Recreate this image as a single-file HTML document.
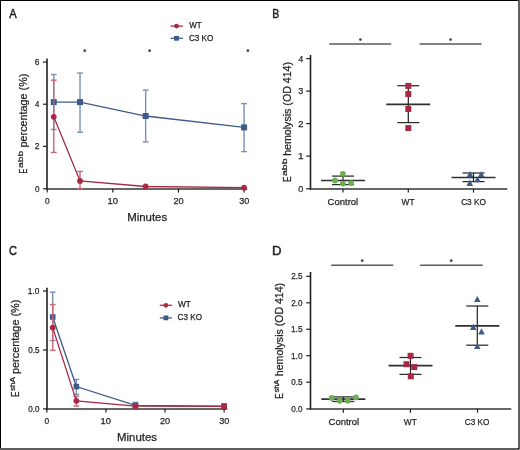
<!DOCTYPE html>
<html><head><meta charset="utf-8"><style>
html,body{margin:0;padding:0;background:#fff;}
body{width:520px;height:450px;overflow:hidden;position:relative;}
svg{position:absolute;left:0;top:0;will-change:transform;}
text{font-family:"Liberation Sans",sans-serif;font-kerning:none;stroke:#231f20;stroke-width:0.25px;}
</style></head><body>
<svg width="520" height="450" viewBox="0 0 520 450">
<rect x="0" y="0" width="520" height="450" fill="#fff"/>
<rect x="0" y="0" width="520" height="1" fill="#000"/>
<rect x="0" y="0" width="1" height="450" fill="#000"/>
<rect x="518" y="0" width="2" height="450" fill="#5f5f5f"/>
<rect x="0" y="448" width="520" height="2" fill="#5f5f5f"/>
<rect x="518" y="448" width="1" height="1" fill="#111"/>
<rect x="519" y="449" width="1" height="1" fill="#bbb"/>
<text x="9.18" y="17.80" font-size="12.8" fill="#231f20" textLength="7.44" lengthAdjust="spacingAndGlyphs" style="stroke-width:0.5px">A</text>
<line x1="47.00" y1="58.50" x2="47.00" y2="189.60" stroke="#231f20" stroke-width="1.6"/>
<line x1="46.20" y1="189.00" x2="247.20" y2="189.00" stroke="#353535" stroke-width="1.7"/>
<line x1="43.00" y1="188.80" x2="47.00" y2="188.80" stroke="#231f20" stroke-width="1.2"/>
<text x="34.98" y="191.70" font-size="9.5" fill="#231f20" textLength="4.54" lengthAdjust="spacingAndGlyphs">0</text>
<line x1="43.00" y1="146.36" x2="47.00" y2="146.36" stroke="#231f20" stroke-width="1.2"/>
<text x="34.87" y="149.26" font-size="9.5" fill="#231f20" textLength="4.76" lengthAdjust="spacingAndGlyphs">2</text>
<line x1="43.00" y1="104.22" x2="47.00" y2="104.22" stroke="#231f20" stroke-width="1.2"/>
<text x="35.12" y="107.12" font-size="9.5" fill="#231f20" textLength="4.30" lengthAdjust="spacingAndGlyphs">4</text>
<line x1="43.00" y1="62.08" x2="47.00" y2="62.08" stroke="#231f20" stroke-width="1.2"/>
<text x="34.87" y="64.98" font-size="9.5" fill="#231f20" textLength="4.70" lengthAdjust="spacingAndGlyphs">6</text>
<line x1="47.20" y1="188.80" x2="47.20" y2="192.60" stroke="#231f20" stroke-width="1.2"/>
<text x="45.07" y="204.40" font-size="9.5" fill="#231f20" textLength="4.65" lengthAdjust="spacingAndGlyphs">0</text>
<line x1="112.83" y1="188.80" x2="112.83" y2="192.60" stroke="#231f20" stroke-width="1.2"/>
<text x="107.61" y="204.40" font-size="9.5" fill="#231f20" textLength="10.49" lengthAdjust="spacingAndGlyphs">10</text>
<line x1="178.46" y1="188.80" x2="178.46" y2="192.60" stroke="#231f20" stroke-width="1.2"/>
<text x="173.50" y="204.40" font-size="9.5" fill="#231f20" textLength="10.22" lengthAdjust="spacingAndGlyphs">20</text>
<line x1="244.09" y1="188.80" x2="244.09" y2="192.60" stroke="#231f20" stroke-width="1.2"/>
<text x="239.24" y="204.40" font-size="9.5" fill="#231f20" textLength="10.10" lengthAdjust="spacingAndGlyphs">30</text>
<text x="127.16" y="220.60" font-size="11" fill="#231f20" textLength="40.05" lengthAdjust="spacingAndGlyphs">Minutes</text>
<g transform="translate(27.40,0) rotate(-90)">
<text x="-173.39" y="0.00" font-size="11.8" fill="#231f20" textLength="4.80" lengthAdjust="spacingAndGlyphs">E</text>
<text x="-168.04" y="-4.00" font-size="7.8" fill="#231f20" textLength="17.27" lengthAdjust="spacingAndGlyphs">abb</text>
<text x="-147.40" y="0.00" font-size="11" fill="#231f20" textLength="73.76" lengthAdjust="spacingAndGlyphs">percentage (%)</text>
</g>
<circle cx="84.70" cy="50.70" r="1.4" fill="#4a4a4a"/>
<circle cx="149.60" cy="50.70" r="1.4" fill="#4a4a4a"/>
<circle cx="247.90" cy="50.70" r="1.4" fill="#4a4a4a"/>
<line x1="170.60" y1="26.10" x2="182.80" y2="26.10" stroke="#a62a42" stroke-width="1.3"/>
<circle cx="176.50" cy="26.10" r="2.4" fill="#a62a42"/>
<line x1="170.60" y1="38.30" x2="182.80" y2="38.30" stroke="#3d5b88" stroke-width="1.3"/>
<rect x="174.10" y="35.90" width="4.8" height="4.8" fill="#3d5b88"/>
<text x="189.26" y="28.40" font-size="8.9" fill="#231f20" textLength="12.42" lengthAdjust="spacingAndGlyphs">WT</text>
<text x="188.89" y="40.80" font-size="8.9" fill="#231f20" textLength="24.51" lengthAdjust="spacingAndGlyphs">C3 KO</text>
<line x1="53.76" y1="129.50" x2="53.76" y2="74.51" stroke="#7890b4" stroke-width="1.4"/>
<line x1="50.86" y1="129.50" x2="56.66" y2="129.50" stroke="#7890b4" stroke-width="1.4"/>
<line x1="50.86" y1="74.51" x2="56.66" y2="74.51" stroke="#7890b4" stroke-width="1.4"/>
<line x1="80.02" y1="132.24" x2="80.02" y2="73.04" stroke="#7890b4" stroke-width="1.4"/>
<line x1="77.11" y1="132.24" x2="82.92" y2="132.24" stroke="#7890b4" stroke-width="1.4"/>
<line x1="77.11" y1="73.04" x2="82.92" y2="73.04" stroke="#7890b4" stroke-width="1.4"/>
<line x1="145.64" y1="141.94" x2="145.64" y2="90.10" stroke="#7890b4" stroke-width="1.4"/>
<line x1="142.74" y1="141.94" x2="148.54" y2="141.94" stroke="#7890b4" stroke-width="1.4"/>
<line x1="142.74" y1="90.10" x2="148.54" y2="90.10" stroke="#7890b4" stroke-width="1.4"/>
<line x1="244.09" y1="151.63" x2="244.09" y2="103.59" stroke="#7890b4" stroke-width="1.4"/>
<line x1="241.19" y1="151.63" x2="246.99" y2="151.63" stroke="#7890b4" stroke-width="1.4"/>
<line x1="241.19" y1="103.59" x2="246.99" y2="103.59" stroke="#7890b4" stroke-width="1.4"/>
<polyline points="53.76,102.11 80.02,102.11 145.64,116.02 244.09,127.40" fill="none" stroke="#3d5b88" stroke-width="1.3"/>
<rect x="50.76" y="99.11" width="6" height="6" fill="#3d5b88"/>
<rect x="77.02" y="99.11" width="6" height="6" fill="#3d5b88"/>
<rect x="142.64" y="113.02" width="6" height="6" fill="#3d5b88"/>
<rect x="241.09" y="124.40" width="6" height="6" fill="#3d5b88"/>
<line x1="53.76" y1="152.47" x2="53.76" y2="80.20" stroke="#c96678" stroke-width="1.4"/>
<line x1="50.86" y1="152.47" x2="56.66" y2="152.47" stroke="#c96678" stroke-width="1.4"/>
<line x1="50.86" y1="80.20" x2="56.66" y2="80.20" stroke="#c96678" stroke-width="1.4"/>
<line x1="80.02" y1="188.50" x2="80.02" y2="171.43" stroke="#c96678" stroke-width="1.4"/>
<line x1="77.11" y1="188.50" x2="82.92" y2="188.50" stroke="#c96678" stroke-width="1.4"/>
<line x1="77.11" y1="171.43" x2="82.92" y2="171.43" stroke="#c96678" stroke-width="1.4"/>
<polyline points="53.76,116.86 80.02,180.91 145.64,186.50 244.09,187.66" fill="none" stroke="#a62a42" stroke-width="1.3"/>
<circle cx="53.76" cy="116.86" r="2.9" fill="#a62a42"/>
<circle cx="80.02" cy="180.91" r="2.9" fill="#a62a42"/>
<circle cx="145.64" cy="186.50" r="2.9" fill="#a62a42"/>
<circle cx="244.09" cy="187.66" r="2.9" fill="#a62a42"/>
<text x="272.34" y="17.80" font-size="12.8" fill="#231f20" textLength="7.02" lengthAdjust="spacingAndGlyphs" style="stroke-width:0.5px">B</text>
<line x1="310.50" y1="55.00" x2="310.50" y2="189.60" stroke="#231f20" stroke-width="1.6"/>
<line x1="309.70" y1="189.00" x2="507.30" y2="189.00" stroke="#353535" stroke-width="1.7"/>
<line x1="306.20" y1="188.80" x2="310.50" y2="188.80" stroke="#231f20" stroke-width="1.2"/>
<text x="298.35" y="191.70" font-size="9.5" fill="#231f20" textLength="5.00" lengthAdjust="spacingAndGlyphs">0</text>
<line x1="306.20" y1="156.10" x2="310.50" y2="156.10" stroke="#231f20" stroke-width="1.2"/>
<text x="297.94" y="159.00" font-size="9.5" fill="#231f20" textLength="5.55" lengthAdjust="spacingAndGlyphs">1</text>
<line x1="306.20" y1="123.60" x2="310.50" y2="123.60" stroke="#231f20" stroke-width="1.2"/>
<text x="298.23" y="126.50" font-size="9.5" fill="#231f20" textLength="5.25" lengthAdjust="spacingAndGlyphs">2</text>
<line x1="306.20" y1="91.10" x2="310.50" y2="91.10" stroke="#231f20" stroke-width="1.2"/>
<text x="298.35" y="94.00" font-size="9.5" fill="#231f20" textLength="5.04" lengthAdjust="spacingAndGlyphs">3</text>
<line x1="306.20" y1="58.60" x2="310.50" y2="58.60" stroke="#231f20" stroke-width="1.2"/>
<text x="298.50" y="61.50" font-size="9.5" fill="#231f20" textLength="4.75" lengthAdjust="spacingAndGlyphs">4</text>
<line x1="343.00" y1="188.80" x2="343.00" y2="192.60" stroke="#231f20" stroke-width="1.2"/>
<line x1="408.30" y1="188.80" x2="408.30" y2="192.60" stroke="#231f20" stroke-width="1.2"/>
<line x1="473.50" y1="188.80" x2="473.50" y2="192.60" stroke="#231f20" stroke-width="1.2"/>
<text x="327.52" y="204.80" font-size="9.8" fill="#231f20" textLength="30.72" lengthAdjust="spacingAndGlyphs">Control</text>
<text x="401.56" y="204.80" font-size="9.8" fill="#231f20" textLength="12.93" lengthAdjust="spacingAndGlyphs">WT</text>
<text x="461.18" y="204.80" font-size="9.8" fill="#231f20" textLength="24.71" lengthAdjust="spacingAndGlyphs">C3 KO</text>
<g transform="translate(290.50,0) rotate(-90)">
<text x="-181.88" y="0.00" font-size="11.8" fill="#231f20" textLength="5.54" lengthAdjust="spacingAndGlyphs">E</text>
<text x="-176.05" y="-4.00" font-size="7.8" fill="#231f20" textLength="17.59" lengthAdjust="spacingAndGlyphs">abb</text>
<text x="-155.84" y="0.00" font-size="11" fill="#231f20" textLength="93.90" lengthAdjust="spacingAndGlyphs">hemolysis (OD 414)</text>
</g>
<line x1="329.20" y1="44.10" x2="391.20" y2="44.10" stroke="#58595b" stroke-width="1.5"/>
<line x1="419.60" y1="44.10" x2="481.50" y2="44.10" stroke="#58595b" stroke-width="1.5"/>
<circle cx="360.40" cy="39.60" r="1.4" fill="#4a4a4a"/>
<circle cx="450.60" cy="39.60" r="1.4" fill="#4a4a4a"/>
<line x1="332.00" y1="184.60" x2="354.00" y2="184.60" stroke="#2a2a2a" stroke-width="1.25"/>
<line x1="332.00" y1="176.10" x2="354.00" y2="176.10" stroke="#2a2a2a" stroke-width="1.25"/>
<line x1="343.00" y1="184.60" x2="343.00" y2="176.10" stroke="#231f20" stroke-width="1.2"/>
<line x1="321.00" y1="180.50" x2="365.00" y2="180.50" stroke="#303030" stroke-width="1.7"/>
<circle cx="342.90" cy="173.80" r="2.9" fill="#6daf4d"/>
<circle cx="335.00" cy="180.50" r="2.9" fill="#6daf4d"/>
<circle cx="342.90" cy="183.60" r="2.9" fill="#6daf4d"/>
<circle cx="351.00" cy="183.10" r="2.9" fill="#6daf4d"/>
<line x1="397.30" y1="122.60" x2="419.30" y2="122.60" stroke="#2a2a2a" stroke-width="1.25"/>
<line x1="397.30" y1="85.70" x2="419.30" y2="85.70" stroke="#2a2a2a" stroke-width="1.25"/>
<line x1="408.30" y1="122.60" x2="408.30" y2="85.70" stroke="#231f20" stroke-width="1.2"/>
<line x1="386.30" y1="104.30" x2="430.30" y2="104.30" stroke="#303030" stroke-width="1.7"/>
<rect x="405.30" y="82.90" width="6" height="6" fill="#a62a42"/>
<rect x="405.30" y="91.00" width="6" height="6" fill="#a62a42"/>
<rect x="405.30" y="106.00" width="6" height="6" fill="#a62a42"/>
<rect x="405.30" y="125.10" width="6" height="6" fill="#a62a42"/>
<line x1="462.50" y1="181.60" x2="484.50" y2="181.60" stroke="#2a2a2a" stroke-width="1.25"/>
<line x1="462.50" y1="173.00" x2="484.50" y2="173.00" stroke="#2a2a2a" stroke-width="1.25"/>
<line x1="473.50" y1="181.60" x2="473.50" y2="173.00" stroke="#231f20" stroke-width="1.2"/>
<line x1="451.50" y1="177.50" x2="495.50" y2="177.50" stroke="#303030" stroke-width="1.7"/>
<polygon points="466.70,177.00 473.30,177.00 470.00,170.90" fill="#3d5b88"/>
<polygon points="477.90,177.00 484.50,177.00 481.20,171.20" fill="#3d5b88"/>
<polygon points="474.20,182.20 480.80,182.20 477.50,176.40" fill="#3d5b88"/>
<polygon points="466.50,185.90 473.10,185.90 469.80,179.50" fill="#3d5b88"/>
<text x="9.04" y="254.80" font-size="13.4" fill="#231f20" textLength="7.98" lengthAdjust="spacingAndGlyphs" style="stroke-width:0.5px">C</text>
<line x1="47.00" y1="287.70" x2="47.00" y2="409.70" stroke="#231f20" stroke-width="1.6"/>
<line x1="46.20" y1="409.00" x2="227.30" y2="409.00" stroke="#353535" stroke-width="1.7"/>
<line x1="43.00" y1="408.90" x2="47.00" y2="408.90" stroke="#231f20" stroke-width="1.2"/>
<text x="28.18" y="411.80" font-size="9.5" fill="#231f20" textLength="11.23" lengthAdjust="spacingAndGlyphs">0.0</text>
<line x1="43.00" y1="350.00" x2="47.00" y2="350.00" stroke="#231f20" stroke-width="1.2"/>
<text x="28.18" y="352.90" font-size="9.5" fill="#231f20" textLength="11.26" lengthAdjust="spacingAndGlyphs">0.5</text>
<line x1="43.00" y1="291.00" x2="47.00" y2="291.00" stroke="#231f20" stroke-width="1.2"/>
<text x="27.87" y="293.90" font-size="9.5" fill="#231f20" textLength="11.56" lengthAdjust="spacingAndGlyphs">1.0</text>
<line x1="46.80" y1="408.90" x2="46.80" y2="412.60" stroke="#231f20" stroke-width="1.2"/>
<text x="44.57" y="424.40" font-size="9.5" fill="#231f20" textLength="4.65" lengthAdjust="spacingAndGlyphs">0</text>
<line x1="105.90" y1="408.90" x2="105.90" y2="412.60" stroke="#231f20" stroke-width="1.2"/>
<text x="100.58" y="424.40" font-size="9.5" fill="#231f20" textLength="10.49" lengthAdjust="spacingAndGlyphs">10</text>
<line x1="165.00" y1="408.90" x2="165.00" y2="412.60" stroke="#231f20" stroke-width="1.2"/>
<text x="159.94" y="424.40" font-size="9.5" fill="#231f20" textLength="10.22" lengthAdjust="spacingAndGlyphs">20</text>
<line x1="224.10" y1="408.90" x2="224.10" y2="412.60" stroke="#231f20" stroke-width="1.2"/>
<text x="219.15" y="424.40" font-size="9.5" fill="#231f20" textLength="10.10" lengthAdjust="spacingAndGlyphs">30</text>
<text x="117.06" y="440.80" font-size="11" fill="#231f20" textLength="39.95" lengthAdjust="spacingAndGlyphs">Minutes</text>
<g transform="translate(19.20,0) rotate(-90)">
<text x="-396.97" y="0.00" font-size="11.8" fill="#231f20" textLength="5.41" lengthAdjust="spacingAndGlyphs">E</text>
<text x="-391.13" y="-4.00" font-size="7.8" fill="#231f20" textLength="14.14" lengthAdjust="spacingAndGlyphs">shA</text>
<text x="-374.00" y="0.00" font-size="11" fill="#231f20" textLength="74.38" lengthAdjust="spacingAndGlyphs">percentage (%)</text>
</g>
<line x1="159.80" y1="305.30" x2="171.90" y2="305.30" stroke="#a62a42" stroke-width="1.3"/>
<circle cx="165.90" cy="305.30" r="2.4" fill="#a62a42"/>
<line x1="159.80" y1="317.90" x2="171.90" y2="317.90" stroke="#3d5b88" stroke-width="1.3"/>
<rect x="163.50" y="315.50" width="4.8" height="4.8" fill="#3d5b88"/>
<text x="177.96" y="307.00" font-size="8.9" fill="#231f20" textLength="12.93" lengthAdjust="spacingAndGlyphs">WT</text>
<text x="177.59" y="320.10" font-size="8.9" fill="#231f20" textLength="24.40" lengthAdjust="spacingAndGlyphs">C3 KO</text>
<line x1="52.71" y1="340.56" x2="52.71" y2="292.18" stroke="#7890b4" stroke-width="1.4"/>
<line x1="49.81" y1="340.56" x2="55.61" y2="340.56" stroke="#7890b4" stroke-width="1.4"/>
<line x1="49.81" y1="292.18" x2="55.61" y2="292.18" stroke="#7890b4" stroke-width="1.4"/>
<line x1="76.35" y1="394.37" x2="76.35" y2="379.50" stroke="#7890b4" stroke-width="1.4"/>
<line x1="73.45" y1="394.37" x2="79.25" y2="394.37" stroke="#7890b4" stroke-width="1.4"/>
<line x1="73.45" y1="379.50" x2="79.25" y2="379.50" stroke="#7890b4" stroke-width="1.4"/>
<line x1="135.45" y1="405.46" x2="135.45" y2="402.39" stroke="#7890b4" stroke-width="1.4"/>
<line x1="132.55" y1="402.39" x2="138.35" y2="402.39" stroke="#7890b4" stroke-width="1.4"/>
<polyline points="52.71,316.96 76.35,386.58 135.45,405.46 224.10,406.05" fill="none" stroke="#3d5b88" stroke-width="1.3"/>
<rect x="49.91" y="314.16" width="5.6" height="5.6" fill="#3d5b88"/>
<rect x="73.55" y="383.78" width="5.6" height="5.6" fill="#3d5b88"/>
<rect x="132.65" y="402.66" width="5.6" height="5.6" fill="#3d5b88"/>
<rect x="221.30" y="403.25" width="5.6" height="5.6" fill="#3d5b88"/>
<line x1="52.71" y1="350.35" x2="52.71" y2="304.57" stroke="#c96678" stroke-width="1.4"/>
<line x1="49.81" y1="350.35" x2="55.61" y2="350.35" stroke="#c96678" stroke-width="1.4"/>
<line x1="49.81" y1="304.57" x2="55.61" y2="304.57" stroke="#c96678" stroke-width="1.4"/>
<line x1="76.35" y1="406.05" x2="76.35" y2="396.26" stroke="#c96678" stroke-width="1.4"/>
<line x1="73.45" y1="406.05" x2="79.25" y2="406.05" stroke="#c96678" stroke-width="1.4"/>
<line x1="73.45" y1="396.26" x2="79.25" y2="396.26" stroke="#c96678" stroke-width="1.4"/>
<polyline points="52.71,327.58 76.35,400.86 135.45,406.05 224.10,406.40" fill="none" stroke="#a62a42" stroke-width="1.3"/>
<circle cx="52.71" cy="327.58" r="2.9" fill="#a62a42"/>
<circle cx="76.35" cy="400.86" r="2.9" fill="#a62a42"/>
<rect x="132.65" y="403.25" width="5.6" height="5.6" fill="#a62a42"/>
<rect x="221.30" y="403.60" width="5.6" height="5.6" fill="#a62a42"/>
<text x="271.92" y="254.50" font-size="13.4" fill="#231f20" textLength="9.51" lengthAdjust="spacingAndGlyphs" style="stroke-width:0.5px">D</text>
<line x1="310.50" y1="272.00" x2="310.50" y2="409.70" stroke="#231f20" stroke-width="1.6"/>
<line x1="309.70" y1="409.00" x2="511.30" y2="409.00" stroke="#353535" stroke-width="1.7"/>
<line x1="306.20" y1="408.90" x2="310.50" y2="408.90" stroke="#231f20" stroke-width="1.2"/>
<text x="291.28" y="411.80" font-size="9.5" fill="#231f20" textLength="11.23" lengthAdjust="spacingAndGlyphs">0.0</text>
<line x1="306.20" y1="382.15" x2="310.50" y2="382.15" stroke="#231f20" stroke-width="1.2"/>
<text x="291.28" y="385.05" font-size="9.5" fill="#231f20" textLength="11.26" lengthAdjust="spacingAndGlyphs">0.5</text>
<line x1="306.20" y1="355.70" x2="310.50" y2="355.70" stroke="#231f20" stroke-width="1.2"/>
<text x="290.97" y="358.60" font-size="9.5" fill="#231f20" textLength="11.56" lengthAdjust="spacingAndGlyphs">1.0</text>
<line x1="306.20" y1="329.25" x2="310.50" y2="329.25" stroke="#231f20" stroke-width="1.2"/>
<text x="290.97" y="332.15" font-size="9.5" fill="#231f20" textLength="11.58" lengthAdjust="spacingAndGlyphs">1.5</text>
<line x1="306.20" y1="302.80" x2="310.50" y2="302.80" stroke="#231f20" stroke-width="1.2"/>
<text x="291.19" y="305.70" font-size="9.5" fill="#231f20" textLength="11.33" lengthAdjust="spacingAndGlyphs">2.0</text>
<line x1="306.20" y1="276.35" x2="310.50" y2="276.35" stroke="#231f20" stroke-width="1.2"/>
<text x="291.19" y="279.25" font-size="9.5" fill="#231f20" textLength="11.35" lengthAdjust="spacingAndGlyphs">2.5</text>
<line x1="343.30" y1="408.90" x2="343.30" y2="412.70" stroke="#231f20" stroke-width="1.2"/>
<line x1="410.40" y1="408.90" x2="410.40" y2="412.70" stroke="#231f20" stroke-width="1.2"/>
<line x1="477.50" y1="408.90" x2="477.50" y2="412.70" stroke="#231f20" stroke-width="1.2"/>
<text x="328.62" y="424.80" font-size="9.8" fill="#231f20" textLength="30.51" lengthAdjust="spacingAndGlyphs">Control</text>
<text x="403.76" y="424.80" font-size="9.8" fill="#231f20" textLength="13.03" lengthAdjust="spacingAndGlyphs">WT</text>
<text x="464.79" y="424.80" font-size="9.8" fill="#231f20" textLength="24.51" lengthAdjust="spacingAndGlyphs">C3 KO</text>
<g transform="translate(283.20,0) rotate(-90)">
<text x="-398.78" y="0.00" font-size="11.8" fill="#231f20" textLength="5.54" lengthAdjust="spacingAndGlyphs">E</text>
<text x="-392.61" y="-4.00" font-size="7.8" fill="#231f20" textLength="12.92" lengthAdjust="spacingAndGlyphs">shA</text>
<text x="-376.13" y="0.00" font-size="11" fill="#231f20" textLength="93.19" lengthAdjust="spacingAndGlyphs">hemolysis (OD 414)</text>
</g>
<line x1="331.20" y1="265.30" x2="393.20" y2="265.30" stroke="#58595b" stroke-width="1.5"/>
<line x1="420.10" y1="265.30" x2="482.70" y2="265.30" stroke="#58595b" stroke-width="1.5"/>
<circle cx="362.20" cy="260.70" r="1.4" fill="#4a4a4a"/>
<circle cx="451.20" cy="260.70" r="1.4" fill="#4a4a4a"/>
<line x1="332.30" y1="401.50" x2="354.30" y2="401.50" stroke="#2a2a2a" stroke-width="1.25"/>
<line x1="332.30" y1="396.90" x2="354.30" y2="396.90" stroke="#2a2a2a" stroke-width="1.25"/>
<line x1="343.30" y1="401.50" x2="343.30" y2="396.90" stroke="#231f20" stroke-width="1.2"/>
<line x1="321.30" y1="399.20" x2="365.30" y2="399.20" stroke="#303030" stroke-width="1.7"/>
<circle cx="331.70" cy="398.00" r="2.9" fill="#6daf4d"/>
<circle cx="339.60" cy="400.80" r="2.9" fill="#6daf4d"/>
<circle cx="347.60" cy="400.70" r="2.9" fill="#6daf4d"/>
<circle cx="355.90" cy="397.40" r="2.9" fill="#6daf4d"/>
<line x1="399.50" y1="374.40" x2="421.50" y2="374.40" stroke="#2a2a2a" stroke-width="1.25"/>
<line x1="399.50" y1="357.50" x2="421.50" y2="357.50" stroke="#2a2a2a" stroke-width="1.25"/>
<line x1="410.50" y1="374.40" x2="410.50" y2="357.50" stroke="#231f20" stroke-width="1.2"/>
<line x1="388.50" y1="365.60" x2="432.50" y2="365.60" stroke="#303030" stroke-width="1.7"/>
<rect x="407.60" y="352.80" width="6" height="6" fill="#a62a42"/>
<rect x="403.50" y="361.20" width="6" height="6" fill="#a62a42"/>
<rect x="411.30" y="364.10" width="6" height="6" fill="#a62a42"/>
<rect x="407.80" y="373.30" width="6" height="6" fill="#a62a42"/>
<line x1="466.30" y1="345.20" x2="488.30" y2="345.20" stroke="#2a2a2a" stroke-width="1.25"/>
<line x1="466.30" y1="306.00" x2="488.30" y2="306.00" stroke="#2a2a2a" stroke-width="1.25"/>
<line x1="477.30" y1="345.20" x2="477.30" y2="306.00" stroke="#231f20" stroke-width="1.2"/>
<line x1="455.30" y1="325.80" x2="499.30" y2="325.80" stroke="#303030" stroke-width="1.7"/>
<polygon points="474.00,302.00 480.60,302.00 477.30,295.90" fill="#3d5b88"/>
<polygon points="470.00,330.00 476.60,330.00 473.30,323.60" fill="#3d5b88"/>
<polygon points="478.20,334.60 484.80,334.60 481.50,328.30" fill="#3d5b88"/>
<polygon points="474.00,349.10 480.60,349.10 477.30,343.40" fill="#3d5b88"/>
</svg>
</body></html>
